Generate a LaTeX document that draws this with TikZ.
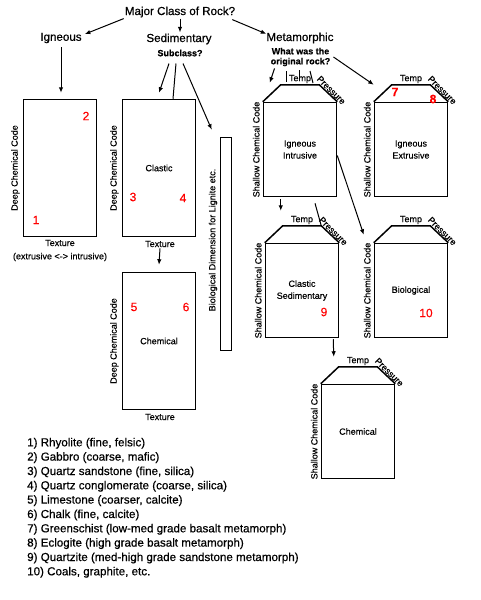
\documentclass[tikz,border=0pt]{standalone}
\usepackage{fontspec}
\setmainfont{Liberation Sans}[FakeBold=0.4]
\newfontfamily\bigfont{Liberation Sans}[FakeBold=0.6]
\usetikzlibrary{arrows.meta}
\newcommand\roofat[1]{%
  \coordinate (#1-tl) at ([shift={(18,-17)}]#1.north west);
  \coordinate (#1-tr) at ([shift={(-18,-17)}]#1.north east);
  \draw[boxline] (#1.north west) -- (#1-tl) -- (#1-tr) -- (#1.north east);
  \path (#1-tl) -- (#1-tr) node[midway, above, axis, inner sep=1.5pt] (#1-temp) {Temp};
  \path (#1-tr) -- (#1.north east) node[midway, rotate=-45, anchor=south, axis, inner sep=1pt] (#1-pres) {Pressure};
  \node[axis, rotate=90, anchor=south] (#1-scc) at ([shift={(-2,0)}]#1.west) {Shallow Chemical Code};
}
\begin{document}
\begin{tikzpicture}[x=1pt,y=-1pt,
  big/.style={font=\bigfont\fontsize{11.6}{14}\selectfont, inner sep=1pt},
  subq/.style={font=\fontsize{9}{10}\selectfont\bfseries, inner sep=1pt, align=center},
  axis/.style={font=\fontsize{9}{10}\selectfont, inner sep=1pt},
  boxline/.style={line width=1.5pt, line join=miter},
  tallbox/.style={draw, boxline, minimum width=73pt, minimum height=137pt, inner sep=0pt, font=\fontsize{9}{12}\selectfont},
  housebox/.style={draw, boxline, minimum width=73pt, minimum height=94pt, inner sep=0pt, font=\fontsize{9}{12}\selectfont, align=center},
  num/.style={font=\fontsize{12}{14}\selectfont, text=red, inner sep=0pt},
  arr/.style={line width=1pt, -{Latex[length=5.5pt,width=4.5pt]}},
  ln/.style={line width=1pt},
  item/.style={font=\bigfont\fontsize{11.6}{14}\selectfont, inner sep=0pt, anchor=base west},
]
\useasboundingbox (0,0) rectangle (480,600);

% headings
\node[big] (title) at (180,12) {Major Class of Rock?};
\node[big] (ign) at (61,38) {Igneous};
\node[big] (sed) at (179,39) {Sedimentary};
\node[subq] (sub) at (180,53) {Subclass?};
\node[big] (meta) at (300,38) {Metamorphic};
\node[subq] (q) at (300.5,57) {What was the\\original rock?};

% igneous box
\node[tallbox] (box1) at (60,168) {};
\node[axis, rotate=90, anchor=south] (dcc1) at ([shift={(-2,0)}]box1.west) {Deep Chemical Code};
\node[axis] (t1) at (60,243) {Texture};
\node[axis] (ext) at (60,257) {(extrusive <-> intrusive)};
\node[num] (n1) at (36,220) {1};
\node[num] (n2) at (86,116) {2};

% clastic box
\node[tallbox] (box2) at (159,168) {Clastic};
\node[axis, rotate=90, anchor=south] (dcc2) at ([shift={(-2,0)}]box2.west) {Deep Chemical Code};
\node[axis] (t2) at (160,244) {Texture};
\node[num] (n3) at (133,197) {3};
\node[num] (n4) at (183,198) {4};

% chemical (sedimentary)
\node[tallbox] (box3) at (159,341) {Chemical};
\node[axis, rotate=90, anchor=south] (dcc3) at ([shift={(-2,0)}]box3.west) {Deep Chemical Code};
\node[axis] (t3) at (160,417) {Texture};
\node[num] (n5) at (134,307) {5};
\node[num] (n6) at (186,307) {6};

% thin biological bar
\node[draw, boxline, minimum width=11pt, minimum height=213pt, inner sep=0pt] (thin) at (226,244) {};
\node[axis, rotate=90] (biolab) at (213,240) {Biological Dimension for Lignite etc.};

% metamorphic houses
\node[housebox] (ii) at (300,149.5) {Igneous\\Intrusive};
\roofat{ii}
\node[housebox] (ie) at (411,149.5) {Igneous\\Extrusive};
\roofat{ie}
\node[housebox] (cs) at (302,290.5) {Clastic\\Sedimentary};
\roofat{cs}
\node[housebox] (bio) at (411,290.5) {Biological};
\roofat{bio}
\node[housebox] (cm) at (358,431.5) {Chemical};
\roofat{cm}

\node[num, font=\fontsize{12}{14}\selectfont\bfseries] (n7) at (395,92) {7};
\node[num, font=\fontsize{12}{14}\selectfont\bfseries] (n8) at (433,99) {8};
\node[num] (n9) at (324,312) {9};
\node[num] (n10) at (426,313) {10};

% connectors
\draw[arr] (title.south west) -- ([shift={(2,2.5)}]ign.north east);
\draw[arr] (title.south) -- (title.south |- sed.north);
\draw[arr] ([shift={(-4,1)}]title.south east) -- ([shift={(1,2.5)}]meta.north west);
\draw[arr, shorten <=3pt, shorten >=6pt] (ign.south) -- (ign.south |- box1.north);
\draw[arr] ([shift={(-11,6)}]sub.south) -- ([shift={(0,-6)}]box2.north);
\draw[ln] ([shift={(-4,6)}]sub.south) -- ([shift={(14,0)}]box2.north);
\draw[arr] ([shift={(3,6)}]sub.south) -- ([shift={(-8,-7)}]thin.north west);
\draw[arr] (t2.south) -- ([shift={(0,-7)}]box3.north);

\draw[arr] ([shift={(5,1)}]q.south west) -- ([shift={(7,-19)}]ii.north west);
\draw[arr] ([shift={(2,0)}]q.east) -- ([shift={(0,-17)}]ie.north west);
\draw[ln] (286,71) -- (286,82);
\draw[ln] (299,70) -- (299,80);
\draw[ln] (310,71) -- (313,83);
\draw[arr] ([shift={(18,2)}]ii.south west) -- ([shift={(-2,-15)}]cs-tl);
\draw[ln] ([shift={(15,6)}]ii.south) -- (cs-tr);
\draw[arr] ([shift={(0,6)}]ii.east) -- ([shift={(-10,-8)}]bio.north west);
\draw[arr] ([shift={(-6,1)}]cs.south east) -- ([shift={(-5,-10)}]cm-tl);

% legend
\node[item] (l1) at (27,446.3) {1) Rhyolite (fine, felsic)};
\node[item] (l2) at (27,460.6) {2) Gabbro (coarse, mafic)};
\node[item] (l3) at (27,475.0) {3) Quartz sandstone (fine, silica)};
\node[item] (l4) at (27,489.3) {4) Quartz conglomerate (coarse, silica)};
\node[item] (l5) at (27,503.6) {5) Limestone (coarser, calcite)};
\node[item] (l6) at (27,518.0) {6) Chalk (fine, calcite)};
\node[item] (l7) at (27,532.3) {7) Greenschist (low-med grade basalt metamorph)};
\node[item] (l8) at (27,546.6) {8) Eclogite (high grade basalt metamorph)};
\node[item] (l9) at (27,561.0) {9) Quartzite (med-high grade sandstone metamorph)};
\node[item] (l10) at (27,575.3) {10) Coals, graphite, etc.};
\end{tikzpicture}
\end{document}
